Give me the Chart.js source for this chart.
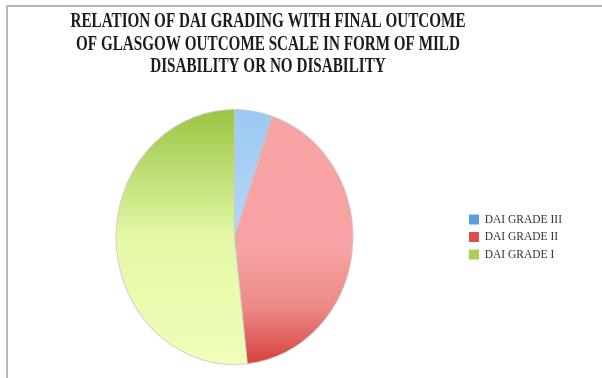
<!DOCTYPE html>
<html>
<head>
<meta charset="utf-8">
<script src="https://cdn.jsdelivr.net/npm/chart.js@4.4.0/dist/chart.umd.min.js"></script>
<style>
    body { margin: 0; background: #fff; }
    #wrap { position: relative; width: 602px; height: 378px; }
    #frame { position: absolute; left: 6px; top: 5px; right: 0; bottom: 0;
             border-top: 2px solid #b8b8b8; border-left: 2px solid #b8b8b8; }
    canvas { position: absolute; left: 0; top: 0; }
</style>
</head>
<body>
<div id="wrap">
    <div id="frame"></div>
    <canvas id="daiChart" width="602" height="378"></canvas>
</div>
<script>
// Data
const titleLines = [
    'RELATION OF DAI GRADING WITH FINAL OUTCOME',
    'OF GLASGOW OUTCOME SCALE IN FORM OF MILD',
    'DISABILITY OR NO DISABILITY'
];
const gradeLabels = ['DAI GRADE III', 'DAI GRADE II', 'DAI GRADE I'];
const patientCounts = [3, 25, 30];

// Colors (gradient stops top -> bottom of the pie, and solid legend swatches)
const sliceStops = [
    [[0, '#9cc8f2'], [1, '#cde6fc']],
    [[0, '#f6a3a4'], [0.55, '#f7a2a3'], [0.78, '#ec8886'], [1, '#d5403a']],
    [[0, '#99c542'], [0.5, '#e4f8a6'], [1, '#f0feba']]
];
const legendColors = ['#5c9de2', '#e04e4c', '#a9d254'];

const yStretch = 1.076;

// draws the pie slightly taller than wide, like the original
const stretchPlugin = {
    id: 'stretch',
    beforeDatasetsDraw(chart) {
        const arc = chart.getDatasetMeta(0).data[0];
        const ctx = chart.ctx;
        ctx.save();
        ctx.translate(arc.x, arc.y);
        ctx.scale(1, yStretch);
        ctx.translate(-arc.x, -arc.y);
    },
    afterDatasetsDraw(chart) {
        chart.ctx.restore();
    }
};

// condensed serif title, three lines
const titlePlugin = {
    id: 'condensedTitle',
    afterDraw(chart) {
        const ctx = chart.ctx;
        ctx.save();
        ctx.font = 'bold 22px "Liberation Serif"';
        ctx.fillStyle = '#1b1b1b';
        ctx.textAlign = 'center';
        ctx.textBaseline = 'alphabetic';
        const sx = 395 / ctx.measureText(titleLines[0]).width;
        ctx.translate(268, 0);
        ctx.scale(sx, 1);
        titleLines.forEach((line, i) => ctx.fillText(line, 0, 27 + i * 22.5));
        ctx.restore();
    }
};

function sliceFill(context) {
    const chart = context.chart;
    const area = chart.chartArea;
    if (!area) return legendColors[context.dataIndex];
    const cy = (area.top + area.bottom) / 2;
    const r = Math.min(area.right - area.left, area.bottom - area.top) / 2;
    const g = chart.ctx.createLinearGradient(0, cy - r, 0, cy + r);
    sliceStops[context.dataIndex].forEach(s => g.addColorStop(s[0], s[1]));
    return g;
}

document.addEventListener('DOMContentLoaded', function () {
    const daiChart = new Chart(document.getElementById('daiChart'), {
        type: 'pie',
        data: {
            labels: gradeLabels,
            datasets: [{
                data: patientCounts,
                backgroundColor: sliceFill,
                borderColor: 'rgba(200,200,200,0.8)',
                borderWidth: 1
            }]
        },
        options: {
            responsive: false,
            animation: false,
            layout: {
                padding: { left: 6, right: 30, top: 118, bottom: 22 }
            },
            plugins: {
                tooltip: { enabled: false },
                legend: {
                    position: 'right',
                    labels: {
                        boxWidth: 10,
                        boxHeight: 10,
                        padding: 6,
                        color: '#333',
                        font: { family: '"Liberation Serif"', size: 11.5 },
                        generateLabels(chart) {
                            return chart.data.labels.map((label, i) => ({
                                text: label,
                                fillStyle: legendColors[i],
                                strokeStyle: legendColors[i],
                                lineWidth: 0,
                                fontColor: '#333',
                                hidden: !chart.getDataVisibility(i),
                                index: i
                            }));
                        }
                    }
                }
            }
        },
        plugins: [stretchPlugin, titlePlugin]
    });
});
</script>
</body>
</html>
